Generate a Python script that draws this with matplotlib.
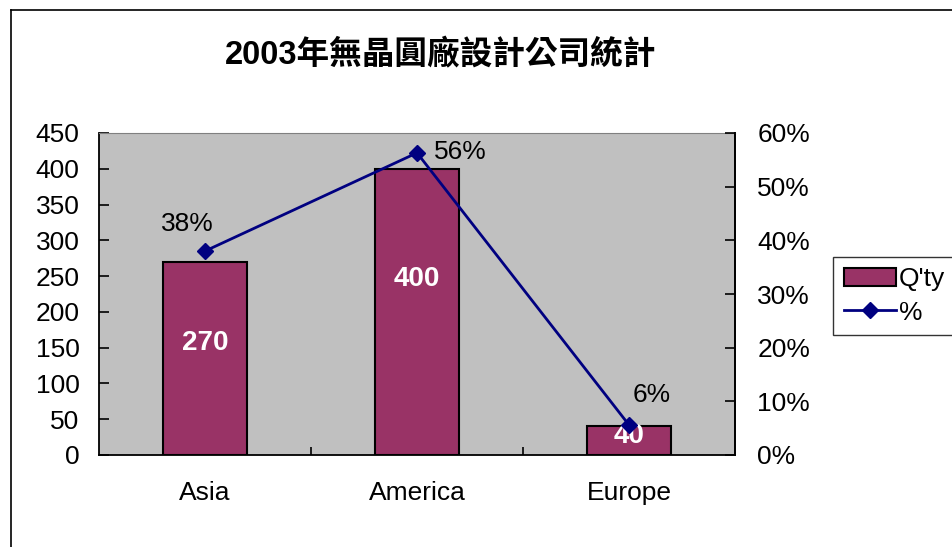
import matplotlib
matplotlib.use("Agg")
import matplotlib.pyplot as plt
from matplotlib.lines import Line2D
from matplotlib.patches import Patch
import numpy as np

categories = ["Asia", "America", "Europe"]
qty = [270, 400, 40]
pct = [0.38, 0.563, 0.056]
pct_labels = ["38%", "56%", "6%"]
left_ticks = [0, 50, 100, 150, 200, 250, 300, 350, 400, 450]
right_ticks = [0, 0.1, 0.2, 0.3, 0.4, 0.5, 0.6]
right_tick_labels = ["0%", "10%", "20%", "30%", "40%", "50%", "60%"]
title = "2003年無晶圓廠設計公司統計"

plt.rcParams['font.family'] = ['Liberation Sans', 'Noto Sans CJK TC', 'DejaVu Sans']

FS = 19
fig = plt.figure(figsize=(9.52, 5.47), dpi=100)
W, H = 952, 547
ax = fig.add_axes([99/W, 1-455/H, (735-99)/W, (455-133)/H])
ax.set_facecolor('#C0C0C0')

x = np.arange(len(categories))
bars = ax.bar(x, qty, width=0.4, color='#993366', edgecolor='black', linewidth=1.5, zorder=2)
ax.set_xlim(-0.5, 2.5)
ax.set_ylim(0, 450)
ax.set_yticks(left_ticks)
ax.set_xticks([0.5, 1.5])
ax.set_xticklabels([])
ax.tick_params(axis='x', direction='in', length=6, width=1.2)
ax.tick_params(axis='y', direction='in', length=7, width=1.2, labelsize=FS, pad=14)
for i, c in enumerate(categories):
    ax.annotate(c, (x[i], 0), xycoords=('data', 'axes fraction'), xytext=(0, -38),
                textcoords='offset pixels', ha='center', va='center', fontsize=FS)

# bar value labels
label_frac = [0.58, 0.615, 0.66]
for i, v in enumerate(qty):
    ax.text(x[i], v*label_frac[i], str(v), ha='center', va='center', color='white',
            fontsize=FS + 1, fontweight='bold', zorder=5)

for s in ['left', 'bottom', 'right']:
    ax.spines[s].set_color('black')
    ax.spines[s].set_linewidth(1.3)
ax.spines['top'].set_color('#808080')

ax2 = ax.twinx()
ax2.plot(x, pct, color='#000080', linewidth=2, marker='D', markersize=8.5,
         markerfacecolor='#000080', markeredgecolor='#000080', zorder=4)
ax2.set_ylim(0, 0.6)
ax2.set_yticks(right_ticks)
ax2.set_yticklabels(right_tick_labels)
ax2.tick_params(axis='y', direction='in', length=7, width=1.2, labelsize=FS, pad=16)
for s in ax2.spines.values():
    s.set_visible(False)
ax2.spines['right'].set_visible(True)
ax2.spines['right'].set_linewidth(1.3)

offsets = [(-18, 27), (43, 1), (23, 30)]
for i, lab in enumerate(pct_labels):
    ax2.annotate(lab, (x[i], pct[i]), xytext=offsets[i], textcoords='offset pixels',
                 ha='center', va='center', fontsize=FS)

fig.text(441/W, 1-55/H, title, ha='center', va='center', fontsize=23.5, fontweight='bold',
         family=['Liberation Sans', 'Noto Sans CJK TC'])

handles = [Patch(facecolor='#993366', edgecolor='black', linewidth=1.5),
           Line2D([], [], color='#000080', linewidth=2, marker='D', markersize=8.5)]
leg = fig.legend(handles, ["Q'ty", "%"], loc='center left', bbox_to_anchor=(833/W, 1-296/H),
                 fontsize=FS, frameon=True, fancybox=False, edgecolor='black',
                 handlelength=2.0, handletextpad=0.1, borderpad=0.4, labelspacing=0.35,
                 borderaxespad=0)
leg.get_frame().set_linewidth(1)

# figure border (cut off at right/bottom)
fig.add_artist(Line2D([11/W, 11/W], [1-10/H, -0.1], transform=fig.transFigure, color='black', linewidth=1.2))
fig.add_artist(Line2D([11/W, 1.1], [1-10/H, 1-10/H], transform=fig.transFigure, color='black', linewidth=1.2))

fig.savefig("out.png", dpi=100)
